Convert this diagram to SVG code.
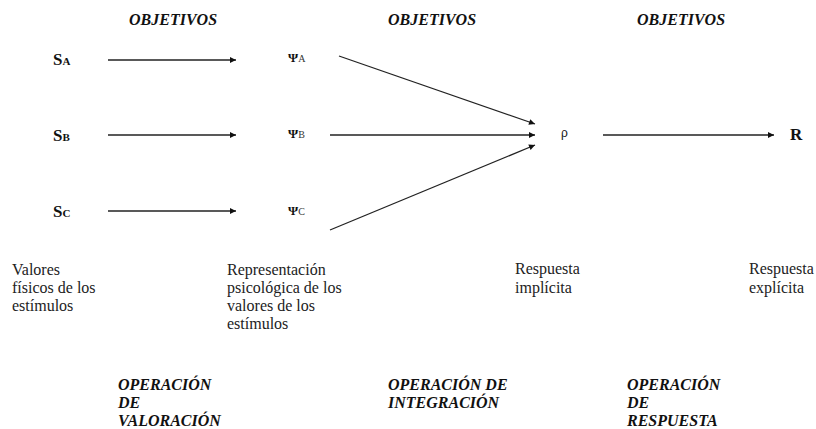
<svg xmlns="http://www.w3.org/2000/svg" width="816" height="429" viewBox="0 0 816 429">
<style>
text{font-family:"Liberation Serif","Times New Roman",Tinos,"DejaVu Serif",serif}
.h{font-weight:bold;font-style:italic;font-size:16px;fill:#111}
.t{font-size:16px;fill:#222}
.s{font-weight:bold;font-size:17px;fill:#111}
.ss{font-weight:bold;font-size:11px;fill:#111}
.p{font-weight:bold;font-size:13px;fill:#111}
.ps{font-weight:normal;font-size:10px;fill:#333}
.c line{stroke:#222;stroke-width:1.3;marker-end:url(#ah)}
</style>
<defs>
<marker id="ah" viewBox="0 0 10 10" refX="10" refY="5" markerWidth="7" markerHeight="6" markerUnits="userSpaceOnUse" orient="auto">
<path d="M0,0 L10,5 L0,10 z" fill="#111"/>
</marker>
</defs>
<rect width="816" height="429" fill="#fff"/>
<g id="headers">
<text class="h" x="129" y="25">OBJETIVOS</text>
<text class="h" x="388" y="25">OBJETIVOS</text>
<text class="h" x="637" y="25">OBJETIVOS</text>
</g>
<g id="SA"><text class="s" x="53" y="65">S<tspan class="ss">A</tspan></text></g>
<g id="SB"><text class="s" x="53" y="141">S<tspan class="ss">B</tspan></text></g>
<g id="SC"><text class="s" x="53" y="217">S<tspan class="ss">C</tspan></text></g>
<g id="psiA"><text class="p" x="288" y="62">Ψ<tspan class="ps">A</tspan></text></g>
<g id="psiB"><text class="p" x="288" y="138">Ψ<tspan class="ps">B</tspan></text></g>
<g id="psiC"><text class="p" x="288" y="215">Ψ<tspan class="ps">C</tspan></text></g>
<g id="rho"><text x="561" y="137" style="font-family:'Liberation Sans',Arial,sans-serif;font-size:12px;fill:#111">ρ</text></g>
<g id="R"><text class="s" x="790" y="140">R</text></g>
<g id="connectors" class="c">
<line x1="108" y1="60" x2="236" y2="60"/>
<line x1="108" y1="135" x2="236" y2="135"/>
<line x1="108" y1="211" x2="236" y2="211"/>
<line x1="339" y1="56" x2="535" y2="124"/>
<line x1="330" y1="135" x2="535" y2="135"/>
<line x1="330" y1="230" x2="535" y2="145"/>
<line x1="603" y1="135" x2="774" y2="135"/>
</g>
<g id="label-valores"><text class="t"><tspan x="12" y="275">Valores</tspan><tspan x="12" y="293">físicos de los</tspan><tspan x="12" y="311">estímulos</tspan></text></g>
<g id="label-representacion"><text class="t"><tspan x="227" y="275">Representación</tspan><tspan x="227" y="293">psicológica de los</tspan><tspan x="227" y="311">valores de los</tspan><tspan x="227" y="329">estímulos</tspan></text></g>
<g id="label-implicita"><text class="t"><tspan x="515" y="274">Respuesta</tspan><tspan x="515" y="293">implícita</tspan></text></g>
<g id="label-explicita"><text class="t"><tspan x="749" y="274">Respuesta</tspan><tspan x="749" y="293">explícita</tspan></text></g>
<g id="op-valoracion"><text class="h"><tspan x="118" y="390">OPERACIÓN</tspan><tspan x="118" y="408">DE</tspan><tspan x="118" y="426">VALORACIÓN</tspan></text></g>
<g id="op-integracion"><text class="h"><tspan x="388" y="390">OPERACIÓN DE</tspan><tspan x="388" y="408">INTEGRACIÓN</tspan></text></g>
<g id="op-respuesta"><text class="h"><tspan x="627" y="390">OPERACIÓN</tspan><tspan x="627" y="408">DE</tspan><tspan x="627" y="426">RESPUESTA</tspan></text></g>
</svg>
